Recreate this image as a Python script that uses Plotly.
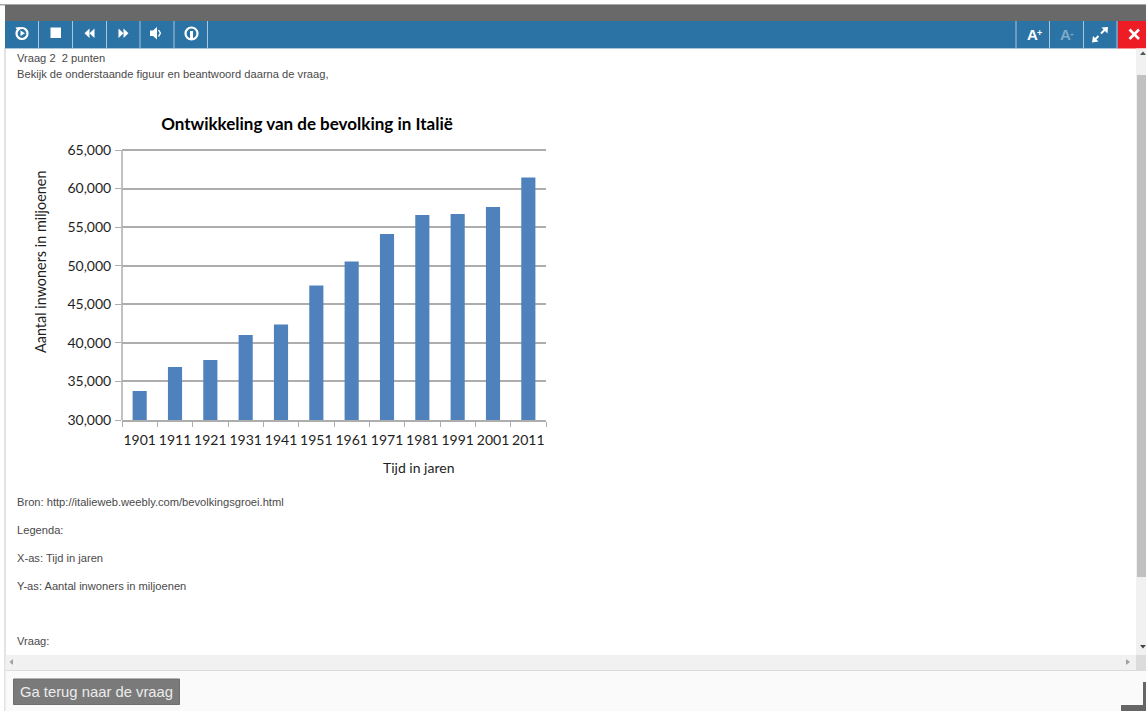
import plotly.graph_objects as go

W, H = 1146, 711

years = ["1901", "1911", "1921", "1931", "1941", "1951", "1961", "1971", "1981", "1991", "2001", "2011"]
population = [33760, 36870, 37780, 41020, 42380, 47430, 50550, 54110, 56570, 56700, 57610, 61430]
y_ticks = [30000, 35000, 40000, 45000, 50000, 55000, 60000, 65000]

chart_title = "Ontwikkeling van de bevolking in Italië"
x_title = "Tijd in jaren"
y_title = "Aantal inwoners in miljoenen"

page_lines = [
    ("Vraag 2\u00a0\u00a02 punten", 58),
    ("Bekijk de onderstaande figuur en beantwoord daarna de vraag,", 74),
    ("Bron: http://italieweb.weebly.com/bevolkingsgroei.html", 501.5),
    ("Legenda:", 529.5),
    ("X-as: Tijd in jaren", 557.5),
    ("Y-as: Aantal inwoners in miljoenen", 585.5),
    ("Vraag:", 640.5),
]
button_label = "Ga terug naar de vraag"


def px(x):
    return x / W


def py(y):
    return 1 - y / H


shapes = []


def rect(x0, y0, x1, y1, color, layer="below", line=None):
    shapes.append(dict(type="rect", xref="paper", yref="paper", x0=px(x0), x1=px(x1), y0=py(y0), y1=py(y1),
                       fillcolor=color, line=dict(width=0) if line is None else line, layer=layer))


def poly(points, color):
    d = "M " + " L ".join(f"{px(a):.5f},{py(b):.5f}" for a, b in points) + " Z"
    shapes.append(dict(type="path", xref="paper", yref="paper", path=d, fillcolor=color, line=dict(width=0), layer="above"))


def seg(x0, y0, x1, y1, color, width=1.0):
    shapes.append(dict(type="line", xref="paper", yref="paper", x0=px(x0), x1=px(x1), y0=py(y0), y1=py(y1),
                       line=dict(color=color, width=width), layer="above"))


def ring(cx, cy, r, color, width=2.0):
    shapes.append(dict(type="circle", xref="paper", yref="paper", x0=px(cx - r), x1=px(cx + r), y0=py(cy - r), y1=py(cy + r),
                       line=dict(color=color, width=width), fillcolor="rgba(0,0,0,0)", layer="above"))


BLUE = "#2b73a4"
# window frame
rect(0, 4, W, 5.5, "#a8a8a8")
rect(5, 5, W, 21, "#696969")
rect(5, 21, 1118, 48.5, BLUE)
rect(1118, 21, W, 48.5, "#ee1c25")
rect(4.5, 48, 5.5, H, "#c8c8c8")
for sx in [38.5, 72.5, 106.5, 140, 174, 207.5, 1016, 1049.5, 1083.5, 1117]:
    seg(sx, 21, sx, 48, "#a9c7dc", 1)
seg(5, 48.5, 1118, 48.5, "#a9c7dc", 1)

# scrollbars and footer
rect(1136, 48.5, W, 655, "#f1f1f1")
rect(1137, 75, W, 577, "#c1c1c1")
rect(5.5, 655, 1136, 670, "#f1f1f1")
rect(1136, 655, W, 670, "#dcdcdc")
rect(5.5, 670, W, H, "#fafafa")
seg(5.5, 670.5, W, 670.5, "#dcdcdc", 1)
rect(13.5, 679, 179.5, 704.5, "#7a7a7a", line=dict(color="#6e6e6e", width=1))
rect(1121, 705, W, H, "#666666")
rect(1143, 682, W, H, "#666666")
poly([(1140, 55), (1146, 55), (1143, 51.5)], "#555555")
poly([(1140, 645), (1146, 645), (1143, 648.5)], "#444444")
poly([(13, 659), (13, 665), (9.5, 662)], "#a0a0a0")
poly([(1126, 659), (1126, 665), (1130, 662)], "#a0a0a0")

# toolbar icons
W_ICON = "#ffffff"
ring(22, 33.5, 5.5, W_ICON, 2.2)
poly([(15.5, 27.5), (20.5, 27), (18, 31.5)], W_ICON)
poly([(20.5, 30.5), (20.5, 36), (25, 33.2)], W_ICON)
rect(50.5, 27.5, 61, 38, W_ICON, layer="above")
poly([(89.5, 28.5), (89.5, 38), (84.5, 33.2)], W_ICON)
poly([(94.5, 28.5), (94.5, 38), (89.5, 33.2)], W_ICON)
poly([(118.5, 28.5), (118.5, 38), (123.5, 33.2)], W_ICON)
poly([(123.5, 28.5), (123.5, 38), (128.5, 33.2)], W_ICON)
poly([(150, 30.5), (153, 30.5), (157, 27), (157, 39.5), (153, 36), (150, 36)], W_ICON)
seg(158.5, 30, 160.5, 33.2, W_ICON, 1.4)
seg(160.5, 33.2, 158.5, 36.5, W_ICON, 1.4)
ring(191.5, 33.5, 6, W_ICON, 2.2)
rect(190, 31, 193, 39, W_ICON, layer="above")
poly([(1093, 36), (1092, 42.5), (1098.5, 41.5)], W_ICON)
poly([(1108, 27), (1101.5, 27.5), (1107.5, 33.5)], W_ICON)
seg(1094.5, 40, 1098.5, 36, W_ICON, 2)
seg(1101, 33.5, 1105, 29.5, W_ICON, 2)
seg(1129.5, 29.5, 1139, 39, W_ICON, 2.6)
seg(1139, 29.5, 1129.5, 39, W_ICON, 2.6)

annotations = []


def label(text, x, y, size=12, color="#444444", family="Liberation Sans", anchor="left", weight="normal", angle=0):
    annotations.append(dict(text=text, x=px(x), y=py(y), xref="paper", yref="paper", showarrow=False,
                            xanchor=anchor, yanchor="middle", align=anchor, textangle=angle,
                            font=dict(size=size, color=color, family=family, weight=weight)))


for text, yy in page_lines:
    label(text, 14.5, yy, size=11.15, color="#4a4a4a")
label(button_label, 96.5, 691.5, size=14.8, color="#ececec", anchor="center")
label("A", 1032, 34, size=15, color="#ffffff", anchor="center", weight="bold")
label("+", 1039.5, 33, size=9, color="#ffffff", anchor="center", weight="bold")
label("A", 1065, 34, size=15, color="#7fa9c6", anchor="center", weight="bold")
label("-", 1072, 33, size=11, color="#7fa9c6", anchor="center", weight="bold")

AXIS = "#adadad"
FONT = "Lato"
TEXT = "#1e1e1e"
label(x_title, 418, 468, size=14, color=TEXT, family=FONT, anchor="center")
label(y_title, 40, 262, size=14.4, color=TEXT, family=FONT, anchor="center", angle=-90)
seg(122, 150, 122, 420, AXIS, 1.5)

fig = go.Figure(go.Bar(x=years, y=population, marker=dict(color="#4f81bd", line=dict(width=0)), width=0.4))
fig.update_layout(
    width=W, height=H, autosize=False, margin=dict(l=0, r=0, t=0, b=0),
    paper_bgcolor="#ffffff", plot_bgcolor="#ffffff", showlegend=False,
    title=dict(text=f"<b>{chart_title}</b>", x=307 / W, xanchor="center", y=py(124), yanchor="middle",
               font=dict(family=FONT, size=17, color="#000000")),
    xaxis=dict(domain=[px(122), px(546)], type="category", range=[-0.5, 11.5], tickson="boundaries",
               ticks="outside", ticklen=5, tickcolor=AXIS, tickwidth=1.4, showline=True, linecolor=AXIS, linewidth=1.5,
               showgrid=False, automargin=False, tickangle=0, ticklabelstandoff=6,
               tickfont=dict(family=FONT, size=14, color=TEXT)),
    yaxis=dict(domain=[py(420), py(148)], range=[30000, 65259.3], tickvals=y_ticks, tickformat=",d",
               ticks="outside", ticklen=6, tickcolor=AXIS, tickwidth=1.4, showline=False,
               showgrid=True, gridcolor=AXIS, gridwidth=1.5, zeroline=False, automargin=False, ticklabelstandoff=1,
               tickfont=dict(family=FONT, size=14, color=TEXT)),
    shapes=shapes, annotations=annotations,
)
fig.write_html("out.html", config={"displayModeBar": False},
               post_script="document.body.style.margin='0';document.body.style.overflow='hidden';")
